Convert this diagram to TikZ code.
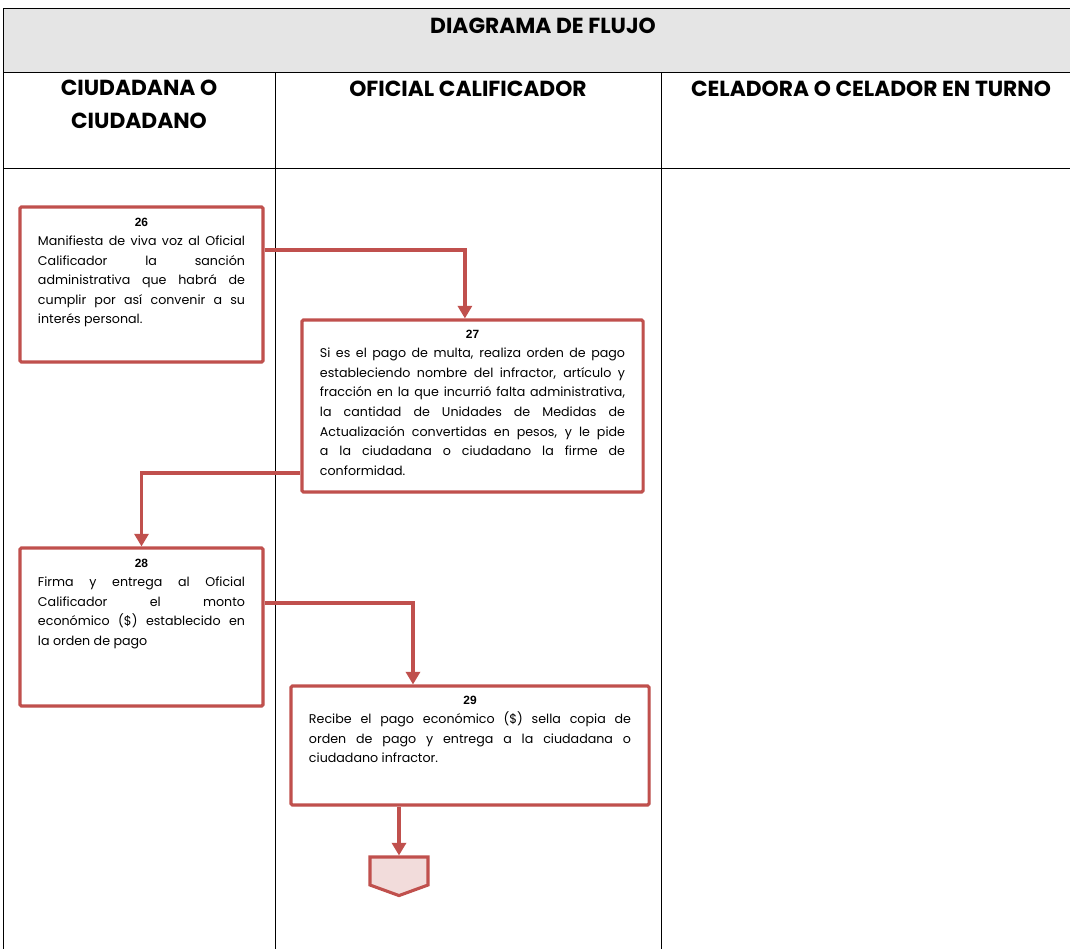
\documentclass[tikz,border=0pt]{standalone}
\usepackage{fontspec}
\setmainfont{Poppins}
\newfontfamily\numfont{Liberation Sans}
\usetikzlibrary{arrows.meta,positioning,shapes.symbols,shadows}
\definecolor{brick}{HTML}{C0504D}
\definecolor{blush}{HTML}{F2DCDB}
\definecolor{band}{HTML}{E5E5E5}
\newcommand{\stepno}[1]{{\centering\numfont\bfseries\fontsize{8.5}{10}\selectfont #1\par}}
\tikzset{
  lane/.style={draw=black, line width=0.7pt},
  hdr/.style={font=\fontsize{15.5}{23.5}\selectfont\bfseries, align=center, inner sep=0pt},
  stepbox/.style={rectangle, draw=brick, line width=2.2pt, fill=white, rounded corners=1pt,
                  drop shadow={opacity=0.25, shadow xshift=1pt, shadow yshift=-1pt}},
  steptext/.style={anchor=north, inner sep=0pt, align=justify, font=\fontsize{9}{13.9}\selectfont},
  offpage/.style={signal, signal to=south, signal pointer angle=140, draw=brick, fill=blush,
                  line width=2.2pt, minimum width=1.45cm, minimum height=0.7cm, inner sep=0pt},
  flow/.style={-{Triangle[width=10pt,length=9pt]}, draw=brick, line width=2.4pt},
}

\begin{document}
\begin{tikzpicture}[x=0.025cm, y=-0.025cm]
\useasboundingbox (0,0) rectangle (1070,949);
% table
\fill[band] (3,8) rectangle (1070,72);
\draw[lane] (1070,8) -- (3,8) -- (3,949);
\draw[lane] (3,72) -- (1070,72);
\draw[lane] (3,168) -- (1070,168);
\draw[lane] (275,72) -- (275,949);
\draw[lane] (661,72) -- (661,949);
\node[hdr, anchor=base] (title) at (543,33) {DIAGRAMA DE FLUJO};
\node[hdr, anchor=north] (lane1) at (139,80) {CIUDADANA O\\CIUDADANO};
\node[hdr, anchor=base] (lane2) at (468,96) {OFICIAL CALIFICADOR};
\node[hdr, anchor=base] (lane3) at (871,96) {CELADORA O CELADOR EN TURNO};

% steps
\node[stepbox, minimum width=6.075cm, minimum height=3.875cm] (p26) at (141.5,284.5) {};
\node[steptext, text width=5.175cm, below=0.3cm of p26.north] (t26)
 {\stepno{26}Manifiesta de viva voz al Oficial\break Calificador la sanción\break
  administrativa que habrá de\break cumplir por así convenir a su\break interés personal.};
\node[stepbox, minimum width=8.525cm, minimum height=4.3cm] (p27) at (472.5,406) {};
\node[steptext, text width=7.625cm, below=0.28cm of p27.north] (t27)
 {\stepno{27}Si es el pago de multa, realiza orden de pago\break estableciendo nombre del infractor, artículo y\break
  fracción en la que incurrió falta administrativa,\break la cantidad de Unidades de Medidas de\break
  Actualización convertidas en pesos, y le pide\break a la ciudadana o ciudadano la firme de\break conformidad.};
\node[stepbox, minimum width=6.075cm, minimum height=3.95cm] (p28) at (141.5,627) {};
\node[steptext, text width=5.175cm, below=0.3cm of p28.north] (t28)
 {\stepno{28}Firma y entrega al Oficial\break Calificador el monto\break
  económico (\$) establecido en\break la orden de pago};
\node[stepbox, minimum width=8.95cm, minimum height=2.975cm] (p29) at (470,745.5) {};
\node[steptext, text width=8.05cm, below=0.28cm of p29.north] (t29)
 {\stepno{29}Recibe el pago económico (\$) sella copia de\break orden de pago y entrega a la ciudadana o\break
  ciudadano infractor.};
\node[offpage] (pend) at (399,871) {};

% flow
\draw[flow] ([yshift=0.86cm]p26.east) -| ([xshift=-0.19cm]p27.north);
\draw[flow] ([yshift=-1.675cm]p27.west) -| (p28.north);
\draw[flow] ([yshift=0.6cm]p28.east) -| ([xshift=-1.425cm]p29.north);
\draw[flow] (p29.south -| pend.north) -- (pend.north);
\end{tikzpicture}
\end{document}
